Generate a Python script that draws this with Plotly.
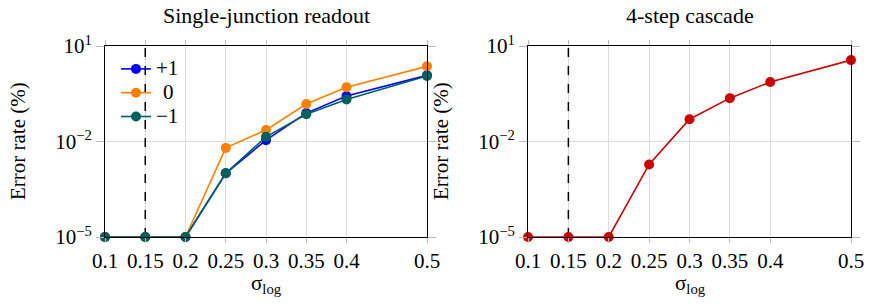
import plotly.graph_objects as go

# ---- data ----
sigma = [0.1, 0.15, 0.2, 0.25, 0.3, 0.35, 0.4, 0.5]
x_ticks = [0.1, 0.15, 0.2, 0.25, 0.3, 0.35, 0.4, 0.5]
x_ticktext = ["0.1", "0.15", "0.2", "0.25", "0.3", "0.35", "0.4", "0.5"]
y_tickvals = [1e-5, 1e-2, 1e1]
y_ticktext = ["10<sup>−5</sup>", "10<sup>−2</sup>", "10<sup>1</sup>"]
y_limits = [1e-5, 1e1]
series_names = ["+1", "\u20040", "−1"]

err_plus1 = [1e-5, 1e-5, 1e-5, 1.0e-3, 0.011, 0.078, 0.27, 1.2]
err_zero = [1e-5, 1e-5, 1e-5, 0.0063, 0.023, 0.15, 0.51, 2.3]
err_minus1 = [1e-5, 1e-5, 1e-5, 1.0e-3, 0.014, 0.072, 0.21, 1.15]
err_cascade = [1e-5, 1e-5, 1e-5, 0.0019, 0.05, 0.23, 0.74, 3.6]

threshold = 0.15

FONT = "Liberation Serif"
W, H = 870, 305

fig = go.Figure()

# threshold dashed lines first (above grid, below data)
for xa, ya in (("x", "y"), ("x2", "y2")):
    fig.add_trace(go.Scatter(
        x=[threshold, threshold], y=y_limits, mode="lines",
        line=dict(color="black", width=1.5, dash="dash"),
        xaxis=xa, yaxis=ya, showlegend=False, hoverinfo="skip",
        cliponaxis=False))

def add(xs, ys, name, color, xa, ya, legend=True):
    fig.add_trace(go.Scatter(
        x=xs, y=ys, name=name, mode="lines+markers",
        line=dict(color=color, width=1.6),
        marker=dict(color=color, size=10),
        xaxis=xa, yaxis=ya, showlegend=legend, cliponaxis=False))

def big(s):
    return '<span style="font-size:21px">' + s + "</span>"

add(sigma, err_plus1, big(series_names[0]), "#0000ff", "x", "y")
add(sigma, err_zero, big(series_names[1]), "#ff8000", "x", "y")
add(sigma, err_minus1, big(series_names[2]), "#005f5f", "x", "y")
add(sigma, err_cascade, "cascade", "#cc0000", "x2", "y2", legend=False)

ydom = [(H - 237) / H, (H - 46) / H]
xdom1 = [105 / W, 427 / W]
xdom2 = [528 / W, 851 / W]

axis_common = dict(
    showline=True, linecolor="black", linewidth=1, mirror="ticks",
    ticks="outside", tickcolor="#bbbbbb", tickwidth=1,
    showgrid=True, gridcolor="#dcdcdc", gridwidth=1,
    zeroline=False, automargin=False,
    tickfont=dict(family=FONT, size=21, color="black"),
)

xaxis = dict(axis_common, type="linear", range=[0.1, 0.5], ticklen=5,
             tickvals=x_ticks, ticktext=x_ticktext)
yaxis = dict(axis_common, type="log", range=[-5, 1], ticklen=8,
             tickvals=y_tickvals, ticktext=y_ticktext)

fig.update_layout(
    width=W, height=H,
    margin=dict(l=0, r=0, t=0, b=0),
    paper_bgcolor="white", plot_bgcolor="white",
    font=dict(family=FONT, size=21, color="black"),
    xaxis=dict(xaxis, domain=xdom1, anchor="y"),
    yaxis=dict(yaxis, domain=ydom, anchor="x"),
    xaxis2=dict(xaxis, domain=xdom2, anchor="y2"),
    yaxis2=dict(yaxis, domain=ydom, anchor="x2"),
    showlegend=True,
    legend=dict(x=116 / W, y=(H - 52) / H, xanchor="left", yanchor="top",
                bgcolor="rgba(255,255,255,0)", borderwidth=0,
                font=dict(family=FONT, size=16), tracegroupgap=0,
                itemwidth=30),
)

annots = [
    dict(text="Single-junction readout", x=266 / W, y=1 - 15 / H, size=22),
    dict(text="4-step cascade", x=690 / W, y=1 - 15 / H, size=22),
    dict(text="σ<sub>log</sub>", x=266 / W, y=1 - 284 / H, size=21),
    dict(text="σ<sub>log</sub>", x=690 / W, y=1 - 284 / H, size=21),
]
for a in annots:
    fig.add_annotation(xref="paper", yref="paper", showarrow=False,
                       xanchor="center", yanchor="middle",
                       text=a["text"], x=a["x"], y=a["y"],
                       font=dict(family=FONT, size=a["size"], color="black"))
for xc in (18, 441):
    fig.add_annotation(xref="paper", yref="paper", showarrow=False,
                       text="Error rate (%)", textangle=-90,
                       x=xc / W, y=1 - 141 / H, xanchor="center", yanchor="middle",
                       font=dict(family=FONT, size=21, color="black"))

fig.write_html("out.html")
